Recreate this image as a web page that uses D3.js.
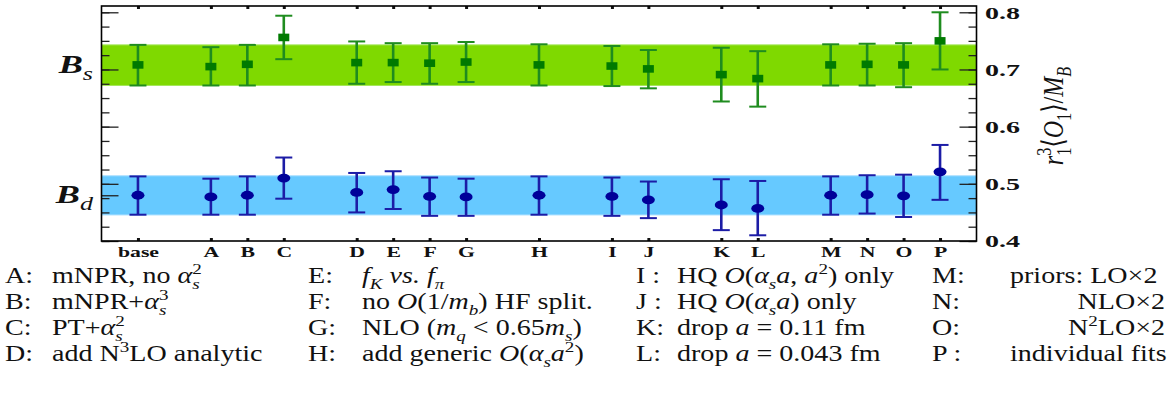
<!DOCTYPE html>
<html>
<head>
<meta charset="utf-8">
<script src="https://cdn.jsdelivr.net/npm/d3@7"></script>
<style>
  body { margin: 0; background: #fff; }
  svg { display: block; }
  svg text { font-family: "Liberation Serif", Tinos, "Times New Roman", Times, "DejaVu Serif", serif; }
</style>
</head>
<body>
<svg id="chart" width="1175" height="399"></svg>
<script>
// categories and where they sit on the x axis (gaps between groups)
const categories = ['base', 'A', 'B', 'C', 'D', 'E', 'F', 'G', 'H', 'I', 'J', 'K', 'L', 'M', 'N', 'O', 'P'];
const catPos = [0, 2, 3, 4, 6, 7, 8, 9, 11, 13, 14, 16, 17, 19, 20, 21, 22];

// B_s : central value, upper and lower end of error bar
const bsCentral = [0.708, 0.705, 0.709, 0.756, 0.712, 0.712, 0.711, 0.713, 0.708, 0.706, 0.701, 0.691, 0.684, 0.708, 0.709, 0.708, 0.750];
const bsUpper   = [0.743, 0.739, 0.743, 0.794, 0.749, 0.746, 0.746, 0.748, 0.744, 0.741, 0.734, 0.738, 0.732, 0.744, 0.745, 0.746, 0.800];
const bsLower   = [0.672, 0.672, 0.672, 0.718, 0.675, 0.678, 0.675, 0.678, 0.672, 0.671, 0.667, 0.644, 0.635, 0.672, 0.672, 0.669, 0.700];

// B_d
const bdCentral = [0.480, 0.477, 0.480, 0.510, 0.485, 0.490, 0.478, 0.477, 0.480, 0.478, 0.472, 0.463, 0.457, 0.480, 0.481, 0.479, 0.521];
const bdUpper   = [0.513, 0.509, 0.513, 0.546, 0.519, 0.522, 0.511, 0.509, 0.513, 0.511, 0.504, 0.508, 0.505, 0.513, 0.515, 0.516, 0.568];
const bdLower   = [0.446, 0.446, 0.446, 0.474, 0.450, 0.456, 0.444, 0.444, 0.446, 0.444, 0.440, 0.419, 0.410, 0.446, 0.448, 0.442, 0.472];

// bands of the base fit
const bsBand = [0.672, 0.743];
const bdBand = [0.4456, 0.514];

const yMajor = [0.4, 0.5, 0.6, 0.7, 0.8];
const yMinor = [0.4, 0.425, 0.45, 0.475, 0.5, 0.525, 0.55, 0.575, 0.6, 0.625, 0.65, 0.675, 0.7, 0.725, 0.75, 0.775, 0.8];
const yLeftExtra = [0.48];

// legend below the plot
const legendKeys = ['A:', 'B:', 'C:', 'D:', 'E:', 'F:', 'G:', 'H:', 'I :', 'J :', 'K:', 'L:', 'M:', 'N:', 'O:', 'P :'];
const legendTexts = [
  'mNPR, no *α*_{s}^{2}',
  'mNPR+*α*_{s}^{3}',
  'PT+*α*_{s}^{2}',
  'add N^{3}LO analytic',
  '*f*_{K} *vs.* *f*_{π}',
  'no *O*(1/*m*_{b}) HF split.',
  'NLO (*m*_{q} < 0.65*m*_{s})',
  'add generic *O*(*α*_{s}*a*^{2})',
  'HQ *O*(*α*_{s}*a*, *a*^{2}) only',
  'HQ *O*(*α*_{s}*a*) only',
  'drop *a* = 0.11 fm',
  'drop *a* = 0.043 fm',
  'priors: LO×2',
  'NLO×2',
  'N^{2}LO×2',
  'individual fits'
];
const legendRight = [13, 14]; // right aligned entries

const FONT = '"Liberation Serif", Tinos, "Times New Roman", Times, "DejaVu Serif", serif';
const svg = d3.select('#chart');
const L = 101.5, R = 976.5, T = 6, B = 241;

const x = d3.scaleLinear().domain([-1, 23]).range([L, R]);
const y = d3.scaleLinear().domain([0.4, 0.811]).range([B, T]);

// bands
function band(v, fill, edge) {
  svg.append('rect')
    .attr('x', L).attr('width', R - L)
    .attr('y', y(v[1])).attr('height', y(v[0]) - y(v[1]))
    .attr('fill', fill);
  svg.selectAll(null).data(v).enter().append('line')
    .attr('x1', L).attr('x2', R)
    .attr('y1', d => y(d)).attr('y2', d => y(d))
    .attr('stroke', edge).attr('stroke-width', 1);
}
band(bsBand, '#7fd900', '#a4e65a');
band(bdBand, '#66c9ff', '#a3ddff');

// axes (ticks pointing inward)
function styleAxis(g, w, c) {
  g.select('.domain').remove();
  g.selectAll('.tick line').attr('stroke', c || '#222').attr('stroke-width', w);
  g.selectAll('.tick text').remove();
}
svg.append('g').attr('transform', `translate(${L},0)`)
  .call(d3.axisRight(y).tickValues(yMinor).tickSize(8))
  .call(g => styleAxis(g, 1.3));
svg.append('g').attr('transform', `translate(${L},0)`)
  .call(d3.axisRight(y).tickValues(yMajor.concat(yLeftExtra)).tickSize(17))
  .call(g => styleAxis(g, 1.3));
svg.append('g').attr('transform', `translate(${R},0)`)
  .call(d3.axisLeft(y).tickValues(yMinor).tickSize(8))
  .call(g => styleAxis(g, 1.3));
svg.append('g').attr('transform', `translate(${R},0)`)
  .call(d3.axisLeft(y).tickValues(yMajor).tickSize(17))
  .call(g => styleAxis(g, 1.3));
svg.append('g').attr('transform', `translate(0,${B})`)
  .call(d3.axisTop(x).tickValues(catPos).tickSize(3))
  .call(g => styleAxis(g, 3, '#111'));
svg.append('g').attr('transform', `translate(0,${T})`)
  .call(d3.axisBottom(x).tickValues(catPos).tickSize(3))
  .call(g => styleAxis(g, 3, '#111'));

// right tick labels
const sxNum = 1.7;
const yLab = svg.append('g').attr('transform', `translate(${R},0)`)
  .call(d3.axisRight(y).tickValues(yMajor).tickSize(0).tickFormat(d3.format('.1f')))
  .attr('font-family', FONT);
yLab.select('.domain').remove();
yLab.selectAll('.tick text')
  .attr('x', 8.5 / sxNum).attr('dy', '0.36em')
  .attr('transform', `scale(${sxNum},1)`)
  .attr('font-size', 16.5).attr('font-weight', 'bold').attr('fill', '#111');

// bottom category labels
const sxCat = 1.45;
const xLab = svg.append('g').attr('transform', `translate(0,${B})`)
  .call(d3.axisBottom(x).tickValues(catPos).tickSize(0).tickFormat((d, i) => categories[i]))
  .attr('font-family', FONT);
xLab.select('.domain').remove();
xLab.selectAll('.tick text')
  .attr('x', 0).attr('y', 16.3).attr('dy', 0)
  .attr('transform', `scale(${sxCat},1)`)
  .attr('font-size', 15).attr('font-weight', 'bold').attr('fill', '#111');

// frame
svg.append('rect').attr('x', L).attr('y', T).attr('width', R - L).attr('height', B - T)
  .attr('fill', 'none').attr('stroke', '#000').attr('stroke-width', 1.6);

// error bars + markers
function series(central, upper, lower, barColor, markColor, shape) {
  const g = svg.append('g');
  const pts = categories.map((c, i) => ({ p: catPos[i], v: central[i], hi: upper[i], lo: lower[i] }));
  g.selectAll('.bar').data(pts).enter().append('line')
    .attr('x1', d => x(d.p)).attr('x2', d => x(d.p))
    .attr('y1', d => y(d.hi)).attr('y2', d => y(d.lo))
    .attr('stroke', barColor).attr('stroke-width', 2.6);
  ['hi', 'lo'].forEach(k => {
    g.selectAll('.cap' + k).data(pts).enter().append('line')
      .attr('x1', d => x(d.p) - 8.5).attr('x2', d => x(d.p) + 8.5)
      .attr('y1', d => y(d[k])).attr('y2', d => y(d[k]))
      .attr('stroke', barColor).attr('stroke-width', 2);
  });
  if (shape === 'square') {
    g.selectAll('.m').data(pts).enter().append('rect')
      .attr('x', d => x(d.p) - 5.5).attr('y', d => y(d.v) - 3.8)
      .attr('width', 11).attr('height', 7.6).attr('fill', markColor);
  } else {
    g.selectAll('.m').data(pts).enter().append('ellipse')
      .attr('cx', d => x(d.p)).attr('cy', d => y(d.v))
      .attr('rx', 6.5).attr('ry', 4.4).attr('fill', markColor);
  }
}
series(bsCentral, bsUpper, bsLower, '#1f8c1f', '#007a00', 'square');
series(bdCentral, bdUpper, bdLower, '#1c1ca6', '#000099', 'circle');

// B_s / B_d labels
function bLabel(sub, v) {
  const t = svg.append('text')
    .attr('transform', `translate(93,${y(v) + 7.5}) scale(1.45,1)`)
    .attr('text-anchor', 'end').attr('fill', '#111');
  t.append('tspan').text('B').attr('font-size', 25).attr('font-weight', 'bold').attr('font-style', 'italic');
  t.append('tspan').text(sub).attr('font-size', 18).attr('font-style', 'italic').attr('dy', 7);
}
bLabel('s', (bsBand[0] + bsBand[1]) / 2);
bLabel('d', (bdBand[0] + bdBand[1]) / 2);

// tiny markup: *italic*, _{sub}, ^{sup}
function richText(sel, str, size) {
  const re = /\*([^*]+)\*|_\{([^}]+)\}|\^\{([^}]+)\}|([^*_^]+)/g;
  let m, off = 0, lastSub = null;
  while ((m = re.exec(str))) {
    let t, kind = 'n', it = false;
    if (m[1]) { t = m[1]; it = true; }
    else if (m[2]) { t = m[2]; kind = 'sub'; }
    else if (m[3]) { t = m[3]; kind = 'sup'; }
    else t = m[4];
    const target = kind === 'sub' ? size * 0.25 : kind === 'sup' ? -size * 0.4 : 0;
    const ts = sel.append('tspan').text(t).attr('dy', target - off);
    off = target;
    if (kind !== 'n') {
      ts.attr('font-size', size * 0.68);
      it = /[A-Za-zα-ωπ]/.test(t);
    }
    if (it) ts.attr('font-style', 'italic');
    if (kind === 'sup' && lastSub) ts.attr('dx', -lastSub.node().getComputedTextLength());
    lastSub = kind === 'sub' ? ts : null;
  }
}

// y axis title (rotated)
const yt = svg.append('text')
  .attr('transform', 'translate(1063,116) rotate(-90) scale(1,1.25)')
  .attr('text-anchor', 'middle').attr('font-size', 24).attr('fill', '#111');
richText(yt, '*r*_{1}^{3}⟨*O*_{1}⟩/*M*_{B}', 24);

// legend
const legSize = 23, legSx = 1.22;
const colKeyX = [5, 308, 636, 932];
const colTextX = [52, 362, 677, 1010];
const rowY = [283, 309, 335, 361];
legendKeys.forEach((k, i) => {
  const c = Math.floor(i / 4), r = i % 4;
  svg.append('text')
    .attr('transform', `translate(${colKeyX[c]},${rowY[r]}) scale(${legSx},1)`)
    .attr('font-size', legSize).attr('fill', '#111').text(k);
  const right = legendRight.includes(i);
  const t = svg.append('text')
    .attr('transform', `translate(${right ? 1165 : colTextX[c]},${rowY[r]}) scale(${legSx},1)`)
    .attr('text-anchor', right ? 'end' : 'start')
    .attr('font-size', legSize).attr('fill', '#111')
    .style('white-space', 'pre');
  richText(t, legendTexts[i], legSize);
});
</script>
</body>
</html>
